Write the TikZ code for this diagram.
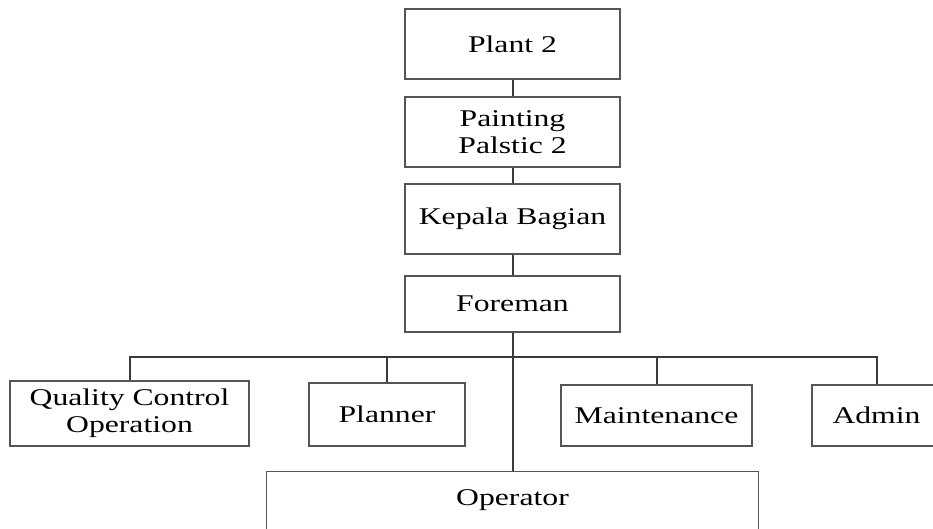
\documentclass[tikz,border=0pt]{standalone}
\usepackage{fontspec}
\setmainfont[FakeStretch=1.32]{Liberation Serif}
\definecolor{boxgray}{HTML}{555555}
\definecolor{linkgray}{HTML}{3A3A3A}
\begin{document}
\begin{tikzpicture}[x=1pt,y=-1pt,
  box/.style={draw=boxgray, line width=1.1pt, inner sep=0pt, align=center,
    font=\fontsize{24}{27}\selectfont},
  link/.style={draw=linkgray, line width=2pt}]
\useasboundingbox (0,0) rectangle (933,529);

% chain of command
\node[box, minimum width=215, minimum height=70] (plant)   at (512.5,44)  {Plant 2};
\node[box, minimum width=215, minimum height=70] (paint)   at (512.5,132) {Painting\\Palstic 2};
\node[box, minimum width=215, minimum height=70] (kepala)  at (512.5,219) {Kepala Bagian};
\node[box, minimum width=215, minimum height=56] (foreman) at (512.5,304) {Foreman};

% sections under the foreman
\node[box, minimum width=239, minimum height=65] (qc)      at (129.5,413.5) {Quality Control\\Operation};
\node[box, minimum width=156, minimum height=63] (planner) at (387,414.5)   {Planner};
\node[box, minimum width=191, minimum height=61] (maint)   at (656.5,415.5) {Maintenance};
\node[box, minimum width=129, minimum height=61] (admin)   at (876.5,415.5) {Admin};
\node[box, draw=none, minimum width=491, minimum height=57] (op) at (512.5,500.5) {Operator};
\draw[boxgray, line width=1.1pt] (op.south west) -- (op.north west) -- (op.north east) -- (op.south east);

\coordinate (bus) at (512.5,357);

\draw[link] (plant) -- (paint);
\draw[link] (paint) -- (kepala);
\draw[link] (kepala) -- (foreman);
\draw[link] (foreman) -- (op);
\draw[link] (qc.north) |- (bus) -| (admin.north);
\draw[link] (planner.north) -- (planner.north |- bus);
\draw[link] (maint.north) -- (maint.north |- bus);
\end{tikzpicture}
\end{document}
